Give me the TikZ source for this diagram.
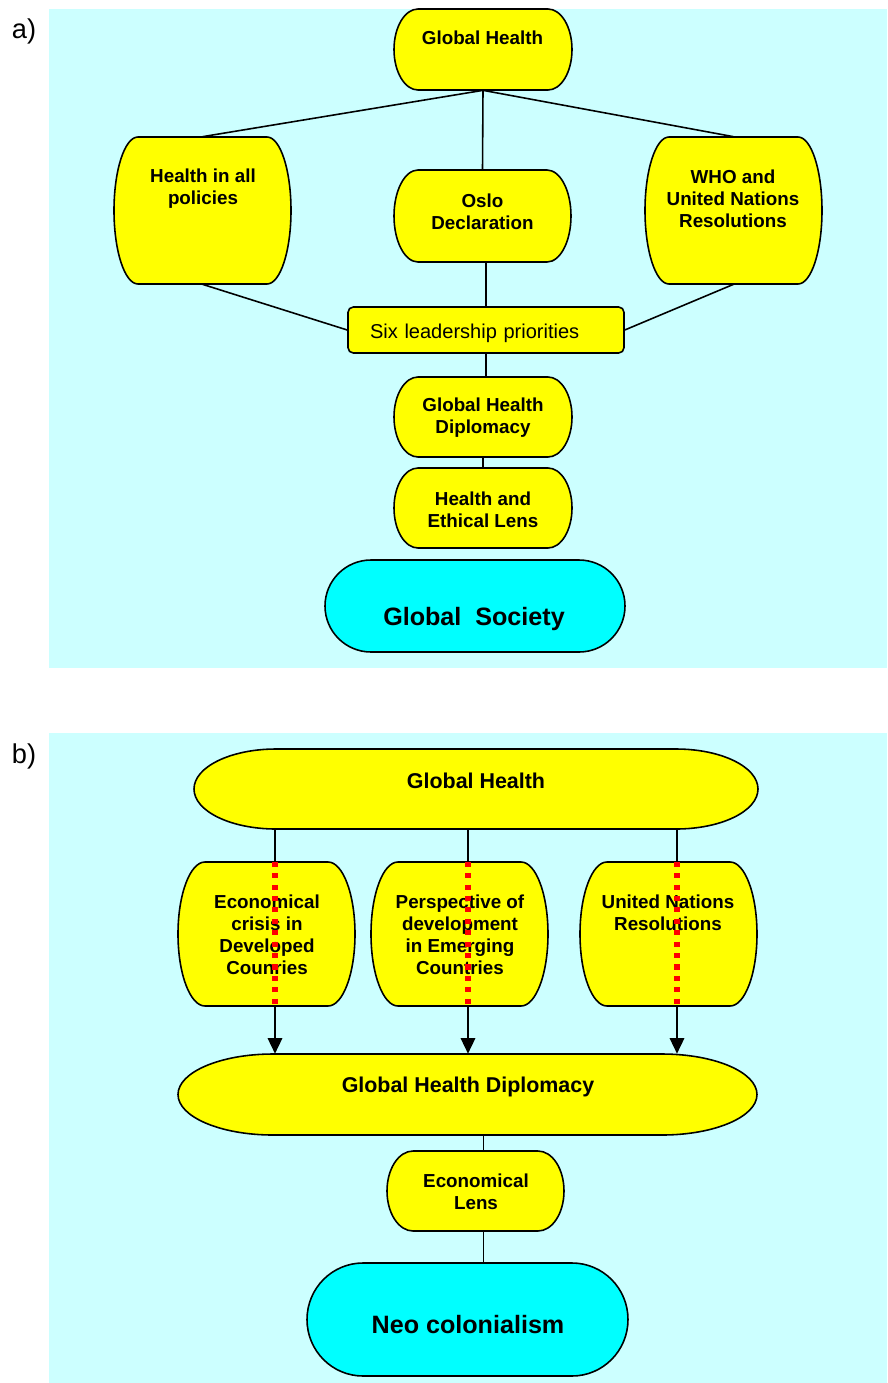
\documentclass[tikz,border=0pt]{standalone}
\usepackage{fontspec}
\setmainfont{Liberation Sans}
\usetikzlibrary{arrows.meta}

\definecolor{panelcyan}{HTML}{CCFFFF}
\definecolor{boxyellow}{HTML}{FFFF00}
\definecolor{boxcyan}{HTML}{00FFFF}

\tikzset{
	boxtext/.style={align=center, inner sep=0pt, font=\fontsize{10.7}{12.5}\selectfont\bfseries},
	widetext/.style={align=center, inner sep=0pt, font=\fontsize{12.2}{14}\selectfont\bfseries},
	bigtext/.style={align=center, inner sep=0pt, font=\fontsize{14.3}{17}\selectfont\bfseries},
	link/.style={line width=0.9pt},
	arrowlink/.style={line width=0.9pt, -{Triangle[width=0.29cm, length=0.31cm]}},
	reddots/.style={red, line width=3pt, dash pattern=on 2.9pt off 3.6pt},
	sixbox/.style={draw, fill=boxyellow, line width=0.9pt, rounded corners=3pt,
		text width=4.64cm, align=left, inner xsep=0.44cm, minimum height=0.92cm,
		font=\fontsize{11.4}{13}\selectfont}
}

% box with elliptic ends: name, cx, cy, half width, half height, bulge, colour
\newcommand{\tbox}[7]{%
	\filldraw[fill=#7, line width=0.9pt] (#2-#4+#6, #3-#5) -- (#2+#4-#6, #3-#5)
		.. controls +(0.5523*#6, 0) and +(0, -0.5523*#5) .. (#2+#4, #3)
		.. controls +(0, 0.5523*#5) and +(0.5523*#6, 0) .. (#2+#4-#6, #3+#5)
		-- (#2-#4+#6, #3+#5)
		.. controls +(-0.5523*#6, 0) and +(0, 0.5523*#5) .. (#2-#4, #3)
		.. controls +(0, -0.5523*#5) and +(-0.5523*#6, 0) .. (#2-#4+#6, #3-#5) -- cycle;
	\node[inner sep=0pt, minimum width=#4*0.04cm, minimum height=#5*0.04cm] (#1) at (#2, #3) {};
}

\begin{document}
\begin{tikzpicture}[x=0.02cm, y=-0.02cm]
	\useasboundingbox (0, 0) rectangle (887, 1383);
	\fill[panelcyan] (49, 9) rectangle (887, 668);
	\fill[panelcyan] (49, 733) rectangle (887, 1383);
	\node[font=\fontsize{15.5}{18}\selectfont] at (24, 31) {a)};
	\node[font=\fontsize{15.5}{18}\selectfont] at (24, 756) {b)};

	% a)
	\tbox{gh}{483}{49.5}{89}{40.5}{24}{boxyellow}
	\tbox{hiap}{202.5}{210.5}{88.5}{73.5}{24}{boxyellow}
	\tbox{oslo}{482.5}{216}{88.5}{46}{24}{boxyellow}
	\tbox{who}{733.5}{210.5}{88.5}{73.5}{24}{boxyellow}
	\tbox{ghd}{483}{417}{89}{40}{24}{boxyellow}
	\tbox{hel}{483}{508}{89}{40}{24}{boxyellow}
	\tbox{gs}{475}{606}{150}{46}{46}{boxcyan}
	\node[sixbox] (six) at (486, 330) {\raisebox{-5pt}[0pt][0pt]{Six leadership priorities}};

	\node[boxtext] at (482.5, 38) {Global Health};
	\node[boxtext] at (203, 189) {Health in all\\policies};
	\node[boxtext] at (482.5, 212) {Oslo\\Declaration};
	\node[boxtext] at (733, 199) {WHO and\\United Nations\\Resolutions};
	\node[boxtext] at (483, 417.5) {Global Health\\Diplomacy};
	\node[boxtext] at (483, 509.5) {Health and\\Ethical Lens};
	\node[bigtext] at (474, 619) {Global\ \ Society};

	\draw[link] (gh.south) -- (hiap.north);
	\draw[link] (gh.south) -- (oslo.north);
	\draw[link] (gh.south) -- (who.north);
	\draw[link] (hiap.south) -- (six.west);
	\draw[link] (who.south) -- (six.east);
	\draw[link] (six.north |- oslo.south) -- (six.north);
	\draw[link] (six.south) -- (six.south |- ghd.north);
	\draw[link] (ghd.south) -- (hel.north);

	% b)
	\tbox{gh2}{476}{789}{282}{40}{82}{boxyellow}
	\tbox{ecc}{266.5}{934}{88.5}{72}{27}{boxyellow}
	\tbox{ped}{459.5}{934}{88.5}{72}{27}{boxyellow}
	\tbox{unr}{668.5}{934}{88.5}{72}{27}{boxyellow}
	\tbox{ghd2}{467.5}{1094.5}{289.5}{40.5}{95}{boxyellow}
	\tbox{el}{475.5}{1191}{88.5}{40}{26}{boxyellow}
	\tbox{neo}{467.5}{1319.5}{160.5}{56.5}{56}{boxcyan}

	\node[widetext] at (476, 781) {Global Health};
	\node[boxtext] at (267, 934.5) {Economical\\crisis in\\Developed\\Counries};
	\node[boxtext] at (460, 934.5) {Perspective of\\development\\in Emerging\\Countries};
	\node[boxtext] at (668, 912.5) {United Nations\\Resolutions};
	\node[widetext] at (468, 1087) {Global Health Diplomacy};
	\node[boxtext] at (476, 1192) {Economical\\Lens};
	\node[bigtext] at (468, 1325) {Neo colonialism};

	\foreach \n in {ecc, ped, unr} {
		\draw[link] ([xshift=0.17cm]\n.north |- gh2.south) -- ([xshift=0.17cm]\n.north);
		\draw[reddots] ([xshift=0.17cm]\n.north) -- ([xshift=0.17cm]\n.south);
		\draw[arrowlink] ([xshift=0.17cm]\n.south) -- ([xshift=0.17cm]\n.south |- ghd2.north);
	}
	\draw[link] ([xshift=0.16cm]el.north |- ghd2.south) -- ([xshift=0.16cm]el.north);
	\draw[link] ([xshift=0.16cm]el.south) -- ([xshift=0.16cm]el.south |- neo.north);
\end{tikzpicture}
\end{document}
